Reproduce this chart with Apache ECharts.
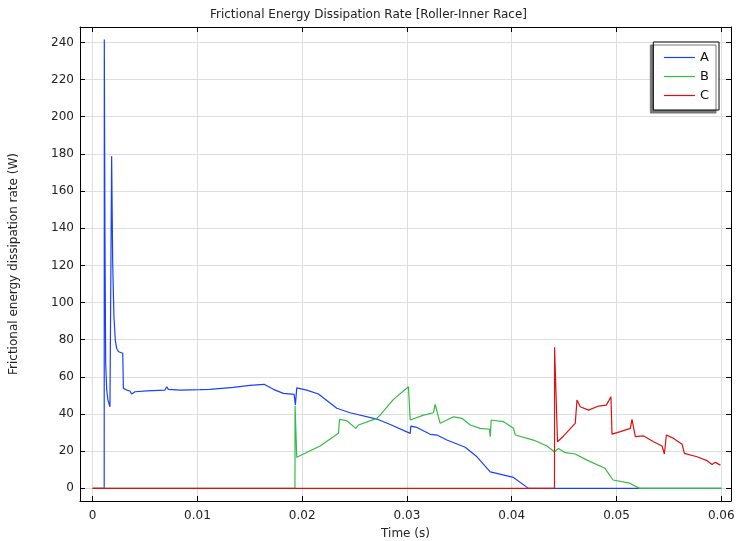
<!DOCTYPE html>
<html>
<head>
<meta charset="utf-8">
<script src="https://cdn.jsdelivr.net/npm/echarts@6/dist/echarts.min.js"></script>
<style>html,body{margin:0;padding:0;background:#fff}#c{width:737px;height:541px}</style>
</head>
<body>
<div id="c"></div>
<script>
// ---- data ----
const seriesNames = ['A', 'B', 'C'];
const xTicks = [0, 0.01, 0.02, 0.03, 0.04, 0.05, 0.06];
const yTicks = [0, 20, 40, 60, 80, 100, 120, 140, 160, 180, 200, 220, 240];

const aTime = [0, 0.0011, 0.00111, 0.00117, 0.00124, 0.00134, 0.00146, 0.00165, 0.00181, 0.00191, 0.00203, 0.00216, 0.00229, 0.00248, 0.00287, 0.00293, 0.00325, 0.00356, 0.00372, 0.00404, 0.00516, 0.0069, 0.00707, 0.00722, 0.00834, 0.01025, 0.0112, 0.01343, 0.01502, 0.01636, 0.01725, 0.0182, 0.01923, 0.01935, 0.01948, 0.02044, 0.02155, 0.0233, 0.02457, 0.02713, 0.0284, 0.03031, 0.03037, 0.03095, 0.03222, 0.03286, 0.03381, 0.03556, 0.03668, 0.03795, 0.04017, 0.0416, 0.06];
const aValue = [0, 0, 241.6, 139, 67.3, 52.9, 47.5, 43.9, 178.8, 121.1, 92.4, 79.8, 75.3, 73.5, 72.7, 53.8, 52.9, 52.4, 50.8, 52.0, 52.5, 52.9, 54.7, 53.3, 52.9, 53.1, 53.3, 54.4, 55.4, 56.0, 53.3, 51.1, 50.6, 44.8, 54.1, 52.9, 50.8, 43.1, 40.7, 37.3, 34.4, 29.6, 33.5, 32.8, 29.1, 28.7, 26.0, 22.1, 17.0, 8.9, 5.9, 0, 0];

const bTime = [0, 0.01931, 0.01932, 0.01948, 0.02171, 0.02346, 0.02356, 0.02426, 0.02512, 0.02537, 0.02712, 0.02744, 0.02871, 0.03014, 0.03031, 0.03158, 0.03253, 0.03269, 0.03317, 0.03381, 0.03444, 0.03524, 0.03604, 0.03699, 0.03788, 0.03795, 0.03804, 0.03922, 0.04017, 0.04034, 0.0405, 0.04208, 0.04336, 0.04406, 0.04447, 0.04511, 0.04606, 0.04718, 0.0489, 0.04967, 0.05116, 0.05221, 0.06];
const bValue = [0, 0, 44.3, 16.7, 22.8, 29.6, 37.1, 36.4, 32.3, 34.1, 37.7, 39.4, 47.9, 54.7, 36.8, 39.4, 40.7, 45.2, 35.0, 36.8, 38.5, 37.7, 34.1, 32.3, 31.8, 27.8, 36.8, 35.9, 32.3, 28.7, 27.8, 26.0, 22.8, 19.7, 21.5, 19.2, 18.5, 15.2, 10.8, 4.5, 3.0, 0, 0];

const cTime = [0, 0.04408, 0.04409, 0.04437, 0.04495, 0.04606, 0.04623, 0.04654, 0.04733, 0.04829, 0.04903, 0.04947, 0.04957, 0.05037, 0.05132, 0.05148, 0.0518, 0.05259, 0.05354, 0.05435, 0.05457, 0.05476, 0.05545, 0.05626, 0.05648, 0.05769, 0.05864, 0.05912, 0.05944, 0.05992];
const cValue = [0, 0, 75.9, 25.1, 28.2, 35.0, 47.5, 43.9, 42.1, 44.3, 44.8, 49.3, 29.2, 30.5, 32.3, 37.1, 27.8, 28.2, 25.1, 22.8, 18.5, 28.7, 26.9, 23.8, 18.8, 17.0, 14.9, 12.9, 14.0, 12.5];

const pairs = (xs, ys) => xs.map((x, i) => [x, ys[i]]);
const colors = ['#1a40ff', '#33bb44', '#dd1111'];
const FONT = 'DejaVu Sans';

const chart = echarts.init(document.getElementById('c'), null, { renderer: 'canvas' });
const gridLine = { show: true, lineStyle: { color: '#dedede', width: 1 } };
const axisLineBlack = { show: true, onZero: false, lineStyle: { color: '#000', width: 1 } };
const xMin = -0.00121, xMax = 0.06093, yMin = -6.8, yMax = 248.3;

chart.setOption({
  animation: false,
  backgroundColor: '#fff',
  textStyle: { fontFamily: FONT },
  title: {
    text: 'Frictional Energy Dissipation Rate [Roller-Inner Race]',
    left: 'center', top: 4,
    textStyle: { fontFamily: FONT, fontSize: 12, fontWeight: 'normal', color: '#222' }
  },
  grid: { left: 80, right: 6, top: 27, bottom: 40, containLabel: false, outerBoundsMode: 'none' },
  legend: {
    data: seriesNames,
    orient: 'vertical',
    right: 18, top: 42,
    itemWidth: 31, itemHeight: 13, itemGap: 6, itemTextGap: 8,
    padding: [9, 10, 8, 10],
    backgroundColor: '#fff', borderColor: '#000', borderWidth: 1,
    shadowColor: '#777', shadowBlur: 0, shadowOffsetX: -3, shadowOffsetY: 3,
    itemStyle: { opacity: 0 },
    lineStyle: { width: 1.2 },
    textStyle: { fontFamily: FONT, fontSize: 13, color: '#111' }
  },
  xAxis: [{
    type: 'value', min: xMin, max: xMax,
    name: 'Time (s)', nameLocation: 'middle', nameGap: 27,
    nameTextStyle: { fontFamily: FONT, fontSize: 12, color: '#222' },
    axisLine: axisLineBlack,
    axisTick: { show: true, inside: true, length: 5, customValues: xTicks, lineStyle: { color: '#000' } },
    axisLabel: { customValues: xTicks, fontFamily: FONT, fontSize: 12, color: '#222', margin: 9,
      formatter: v => (Math.round(v * 1000) / 1000).toString() },
    splitLine: gridLine
  }, {
    type: 'value', min: xMin, max: xMax, position: 'top',
    axisLine: axisLineBlack,
    axisTick: { show: true, inside: true, length: 5, customValues: xTicks, lineStyle: { color: '#000' } },
    axisLabel: { show: false },
    splitLine: { show: false }
  }],
  yAxis: [{
    type: 'value', min: yMin, max: yMax,
    name: 'Frictional energy dissipation rate (W)', nameLocation: 'middle', nameGap: 60,
    nameTextStyle: { fontFamily: FONT, fontSize: 12, color: '#222' },
    axisLine: axisLineBlack,
    axisTick: { show: true, inside: true, length: 5, customValues: yTicks, lineStyle: { color: '#000' } },
    axisLabel: { customValues: yTicks, fontFamily: FONT, fontSize: 12, color: '#222', margin: 6 },
    splitLine: gridLine
  }, {
    type: 'value', min: yMin, max: yMax, position: 'right',
    axisLine: axisLineBlack,
    axisTick: { show: true, inside: true, length: 5, customValues: yTicks, lineStyle: { color: '#000' } },
    axisLabel: { show: false },
    splitLine: { show: false }
  }],
  series: [
    { name: 'A', data: pairs(aTime, aValue) },
    { name: 'B', data: pairs(bTime, bValue) },
    { name: 'C', data: pairs(cTime, cValue) }
  ].map((s, i) => Object.assign(s, {
    type: 'line', xAxisIndex: 0, yAxisIndex: 0,
    symbol: 'none', showSymbol: false,
    color: colors[i],
    lineStyle: { color: colors[i], width: 1.2 },
    z: 2 + i
  }))
});
</script>
</body>
</html>
